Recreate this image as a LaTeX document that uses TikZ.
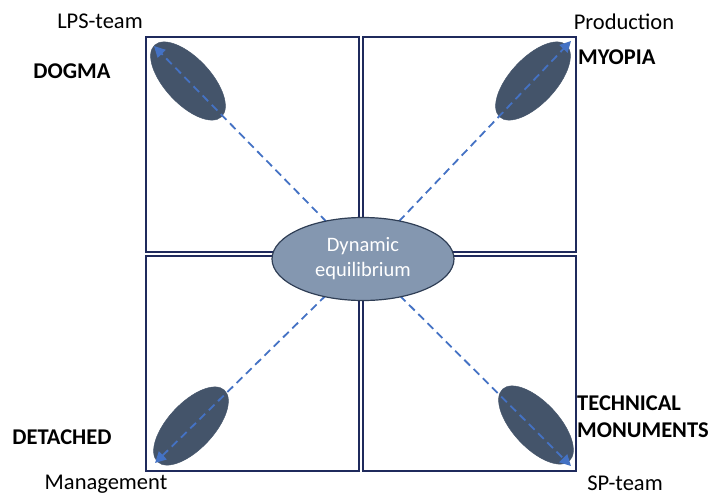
\documentclass[tikz,border=0pt]{standalone}
\usepackage{fontspec}
\setmainfont{Carlito}
\usetikzlibrary{shapes.geometric,arrows.meta}
\definecolor{boxc}{HTML}{1F2A5C}
\definecolor{darkel}{HTML}{44546A}
\definecolor{midel}{HTML}{8497B0}
\definecolor{midbd}{HTML}{2F3E55}
\definecolor{arrc}{HTML}{4472C4}
\begin{document}
\begin{tikzpicture}[x=1pt,y=-1pt,
  quad/.style={draw=boxc,line width=1.8pt},
  corner/.style={ellipse,fill=darkel,draw=darkel,minimum width=98pt,minimum height=46pt,inner sep=0pt},
  centre/.style={ellipse,fill=midel,draw=midbd,line width=1.2pt,minimum width=182pt,minimum height=83pt,inner sep=0pt,text=white,align=center,font=\fontsize{20.5}{25}\selectfont},
  lab/.style={font=\fontsize{22.5}{26}\selectfont,inner sep=0pt},
  blab/.style={font=\fontsize{22.5}{27}\selectfont\bfseries,inner sep=0pt,align=left},
  darr/.style={draw=arrc,line width=1.8pt,dash pattern=on 8pt off 5pt,-{Triangle[length=11pt,width=11pt]}}]
\useasboundingbox (0,0) rectangle (712,496);
% quadrants
\draw[quad] (146,37) rectangle (359,252);
\draw[quad] (363,37) rectangle (576,252);
\draw[quad] (146,256) rectangle (359,471);
\draw[quad] (363,256) rectangle (576,471);
% corner ellipses
\node[corner,rotate=-47] (etl) at (188,81) {};
\node[corner,rotate=47] (etr) at (533,81) {};
\node[corner,rotate=47] (ebl) at (191,426) {};
\node[corner,rotate=-47] (ebr) at (536,425) {};
% arrow targets
\coordinate (ttl) at (154,46);
\coordinate (ttr) at (571,41);
\coordinate (tbl) at (155,463);
\coordinate (tbr) at (571,466);
\coordinate (cc) at (363,259);
\draw[darr] (cc) -- (ttl);
\draw[darr] (cc) -- (ttr);
\draw[darr] (cc) -- (tbl);
\draw[darr] (cc) -- (tbr);
% centre
\node[centre] (c) at (363,259) {Dynamic\\equilibrium};
% labels
\node[lab] (lps) at (100,21) {LPS-team};
\node[lab] (prod) at (624,22) {Production};
\node[lab] (mgmt) at (106,484) {Management};
\node[lab] (sp) at (625,483) {SP-team};
\node[blab] (dogma) at (72,71) {DOGMA};
\node[blab,anchor=west] (myopia) at (578,57) {MYOPIA};
\node[blab] (det) at (62,437) {DETACHED};
\node[blab,anchor=west] (tech) at (577,417) {TECHNICAL\\MONUMENTS};
\end{tikzpicture}
\end{document}
